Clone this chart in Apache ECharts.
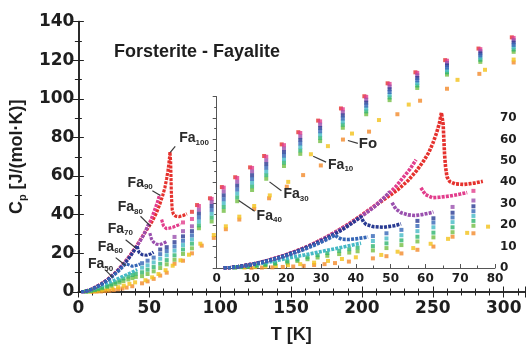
<!DOCTYPE html>
<html>
<head>
<meta charset="utf-8">
<script src="https://cdn.jsdelivr.net/npm/echarts@6.0.0/dist/echarts.min.js"></script>
<style>
  html, body { margin: 0; padding: 0; background: #fff; }
  #chart { width: 529px; height: 349px; }
</style>
</head>
<body>
<div id="chart"></div>
<script>
// ---- data: [T (K), Cp (J/(mol K))] ----
const fa100Curve = [[2,0.05],[4,0.2],[6,0.6],[8,1.1],[10,1.7],[13,2.8],[16,4.1],[19,5.6],[22,7.4],[25,9.3],[28,11.5],[31,14],[34,16.7],[37,19.6],[40,22.8],[43,26.2],[46,29.6],[49,33],[52,36.5],[55,40.8],[57.5,45.5],[59.5,50],[61,54],[62.2,58.5],[63.2,63],[64,67.5],[64.6,72.5],[65.1,67],[65.3,60],[65.5,53],[65.8,47],[66.2,42.5],[67,40.3],[68.5,39.3],[71,39],[74,39.6],[76.5,40.5]]
const fa100Dots = [[80.1,41.5],[83.7,45],[92.8,48.5],[101.2,54.3],[110.6,59.4],[121.1,64.5],[131,70.4],[143.4,76.4],[155.1,82.7],[169.1,88.7],[185.2,95],[201.7,101.3],[218.1,108],[237.7,113.7],[258.7,120],[282.2,126],[305.7,131.8]]

const fa90Rise = [[2,0.05],[4,0.2],[6,0.6],[8,1.1],[10,1.7],[13,2.8],[16,4.1],[19,5.6],[22,7.3],[25,9.2],[28,11.4],[31,13.8],[34,16.5],[37,19.4],[40,22.6],[43,26],[46,29.8],[49,34],[51.5,38],[53.5,42],[55.5,46],[57.3,50.5]]
const fa90After = [[58.7,37.5],[60,34.3],[62,32.8],[64,33],[67,33.6],[70,34.5],[72,35.2]]
const fa90Dots = [[73.8,36],[80.1,37.8],[85,44.5],[94,48.2],[102.5,54],[112,59],[122.5,64.2],[132.5,70],[145,76],[156.5,82.3],[170.5,88.3],[186.5,94.6],[203,101],[219.5,107.7],[239,113.4],[260,119.7],[283.5,125.7],[307,131.5]]

const fa80Rise = [[2,0.05],[4,0.2],[6,0.6],[8,1.1],[10,1.7],[13,2.8],[16,4.1],[19,5.6],[22,7.3],[25,9.2],[28,11.4],[31,13.8],[34,16.5],[37,19.3],[40,22.3],[43,25.7],[46,29.4],[48.5,33.4],[49.7,35.6]]
const fa80After = [[50.4,30.5],[51.5,27.5],[53,25.8],[55,24.8],[57,24.5],[59,24.9],[61,25.6],[62.3,26.2]]
const fa80Dots = [[67.8,28.5],[73.8,31.5],[80.1,34],[85,42.5],[94,46.5],[102.5,52],[112,57],[122.5,62.3],[132.5,68.1],[145,74.2],[156.5,80.5],[170.5,86.6],[186.5,93],[203,99.5],[219.5,106.3],[239,112.1],[260,118.5],[283.5,124.6],[307,130.3]]

const fa70Curve = [[2,0.05],[4,0.2],[6,0.6],[8,1.1],[10,1.7],[13,2.8],[16,4],[19,5.5],[22,7.2],[25,9],[28,11.1],[31,13.4],[34,15.9],[37,18.8],[40,22.2],[41.5,24],[42.2,21.5],[43,20.3],[45,19.3],[48,19],[51,19.7],[53,20.6]]
const fa70Dots = [[57.7,22],[62.3,23.2],[67.8,25.8],[73.8,28.8],[80.1,31.5],[85,40.5],[94,44.5],[102.5,50],[112,55],[122.5,60.4],[132.5,66.2],[145,72.4],[156.5,78.7],[170.5,84.9],[186.5,91.4],[203,98],[219.5,104.9],[239,110.8],[260,117.3],[283.5,123.5],[307,129.1]]

const fa60Curve = [[2,0.05],[4,0.2],[6,0.55],[8,1],[10,1.6],[13,2.6],[16,3.8],[19,5.2],[22,6.8],[25,8.6],[28,10.6],[31,12.8],[33,14.4],[34,15.4],[34.8,14.3],[36,13.4],[38,13.3],[40,13.6],[42,14.1],[43.5,14.5]]
const fa60Dots = [[44.9,14.9],[48.8,16.2],[53.1,17.8],[57.7,19.6],[62.3,21.2],[67.8,23.6],[73.8,26.5],[80.1,29.3],[85,38.5],[94,42.5],[102.5,48],[112,53],[122.5,58.5],[132.5,64.3],[145,70.6],[156.5,76.9],[170.5,83.2],[186.5,89.8],[203,96.5],[219.5,103.5],[239,109.5],[260,116.1],[283.5,122.4],[307,127.9]]

const fa50Curve = [[2,0.05],[4,0.2],[6,0.5],[8,0.9],[10,1.4],[13,2.2],[16,3.1],[19,4.1],[22,5.1],[25,6],[28,7],[31,8],[34,9],[37,10],[40,11.1],[41.5,11.6]]
const fa50Dots = [[44.9,12.6],[48.8,13.8],[53.1,15.3],[57.7,17.2],[62.3,19],[67.8,21.4],[73.8,24.3],[80.1,27.2],[85,36.5],[94,40.5],[102.5,46],[112,51],[122.5,56.6],[132.5,62.4],[145,68.8],[156.5,75.1],[170.5,81.5],[186.5,88.2],[203,95],[219.5,102.1],[239,108.2],[260,114.9],[283.5,121.3],[307,126.7]]

const fa40Dots = [[5.3,0.3],[7,0.5],[9,0.8],[11.5,1.2],[14,1.7],[16.8,2.3],[20.3,3.2],[23.2,4],[26.1,5],[29,6],[31.8,7],[35.2,8],[38.1,8.8],[40.5,9.5],[44.9,10.2],[48.8,11.5],[53.1,12.9],[57.7,14.6],[62.3,16.5],[67.8,19],[73.8,22],[80.1,25],[85,34.5],[94,38.5],[102.5,44],[112,49],[122.5,54.7],[132.5,60.5],[145,67],[156.5,73.3],[170.5,79.8],[186.5,86.6],[203,93.5],[219.5,100.7],[239,106.9],[260,113.7],[283.5,120.2],[307,125.5]]

const fa30Dots = [[5.3,0.2],[7,0.4],[9,0.6],[11.5,1],[14,1.4],[16.8,1.9],[20.3,2.6],[23.2,3.3],[26.1,4.1],[29,4.9],[31.8,5.7],[35.2,6.5],[38.1,7.2],[40.5,7.8],[44.9,8.2],[48.8,9.3],[53.1,10.7],[57.7,12.4],[62.3,14.3],[67.8,16.7],[73.8,19.7],[80.1,22.6],[85,33],[94,36.5],[102.5,42],[112,47],[122.5,52.8],[132.5,58.6],[145,65.2],[156.5,71.5],[170.5,78.1],[186.5,85],[203,92],[219.5,99.3],[239,105.6],[260,112.5],[283.5,119.1],[307,124.3]]

const fa10Dots = [[8,0.2],[11,0.4],[14,0.6],[17,0.9],[20.5,1.3],[24,1.8],[28,2.5],[32,3.3],[36,4.2],[40,5],[47.3,6.1],[52,7.6],[56.5,9.3],[61.5,11.3],[66.5,13.6],[72,16.4],[78,19.3],[86,25],[95.5,29.5],[104,34],[113.5,39],[124,44.5],[135,50],[148,57],[164,71.3],[176,75.5],[193,82],[212,89],[233,97],[267.4,109.8],[286.8,115],[307,120.3]]

const foDots = [[10,0.1],[13,0.2],[16,0.3],[19,0.5],[22,0.7],[25,1],[28,1.4],[31,1.8],[34,2.3],[38,3],[44.9,4.5],[48.8,5.5],[53.1,6.8],[57.7,8.5],[62.3,10],[67.8,14.6],[73.8,16.2],[80.1,20],[87,24],[95.5,28],[104,32.5],[113.5,37.5],[124,43],[134.5,48.5],[147,54.5],[158.5,60.5],[171,65.5],[186.6,78.9],[205,83],[225,92],[241,99],[260,105.2],[282.8,112.9],[307,118.8]]

// tick values
const mainXTicks = [0, 50, 100, 150, 200, 250, 300]
const insetYMax = 80

const colors = {
  fa100: '#e5312d', fa90: '#e23d8c', fa80: '#9a50ae', fa70: '#283a92', fa60: '#3566b6',
  fa50: '#45b9c6', fa40: '#2db46e', fa30: '#72be44', fa10: '#f2c21a', fo: '#f28a2a'
}

const chart = echarts.init(document.getElementById('chart'))

const ink = '#1e1e1e'
const numFont = 'DejaVu Sans'
const txtFont = 'Liberation Sans'

function dots(data, color, inset) {
  return {
    type: 'scatter', data, silent: true,
    xAxisIndex: inset ? 2 : 0, yAxisIndex: inset ? 2 : 0,
    symbol: 'rect', symbolSize: 4,
    itemStyle: { color }
  }
}
// densely measured stretches drawn as a beaded line
function curve(data, color, inset) {
  return {
    type: 'line', data, silent: true, showSymbol: false,
    xAxisIndex: inset ? 2 : 0, yAxisIndex: inset ? 2 : 0,
    lineStyle: { color, width: inset ? 3.6 : 3.2, type: [3, 1.2] }
  }
}

// drawing order: bottom to top
const layers = [
  [foDots, colors.fo, 'd'], [fa10Dots, colors.fa10, 'd'],
  [fa30Dots, colors.fa30, 'd'], [fa40Dots, colors.fa40, 'd'],
  [fa50Curve, colors.fa50, 'c'], [fa50Dots, colors.fa50, 'd'],
  [fa100Curve, colors.fa100, 'c'], [fa100Dots, colors.fa100, 'd'],
  [fa90Rise, colors.fa90, 'c'], [fa90After, colors.fa90, 'c'], [fa90Dots, colors.fa90, 'd'],
  [fa80Rise, colors.fa80, 'c'], [fa80After, colors.fa80, 'c'], [fa80Dots, colors.fa80, 'd'],
  [fa70Curve, colors.fa70, 'c'], [fa70Dots, colors.fa70, 'd'],
  [fa60Curve, colors.fa60, 'c'], [fa60Dots, colors.fa60, 'd']
]
const series = []
for (const inset of [false, true]) {
  for (const [data, color, kind] of layers) {
    series.push(kind === 'c' ? curve(data, color, inset) : dots(data, color, inset))
  }
}

const mainAxisLine = { show: true, lineStyle: { color: '#222', width: 1.6 } }
const insetAxisLine = { show: true, lineStyle: { color: '#555', width: 1 } }

chart.setOption({
  animation: false,
  backgroundColor: '#fff',
  title: {
    text: 'Forsterite - Fayalite', left: 109, top: 38,
    textStyle: { fontFamily: txtFont, fontSize: 18, fontWeight: 'bold', color: ink }
  },
  grid: [
    { left: 75.5, right: 4, top: 21.5, bottom: 54 },
    { left: 216.7, right: 34, top: 96.6, bottom: 81 }
  ],
  xAxis: [
    {
      gridIndex: 0, type: 'value', min: 0, max: 315, interval: 50,
      name: 'T [K]', nameLocation: 'middle', nameGap: 34,
      nameTextStyle: { fontFamily: txtFont, fontSize: 18, fontWeight: 'bold', color: ink, padding: [0, 21, 0, 0] },
      axisLine: mainAxisLine,
      axisTick: { inside: true, length: 5.5, lineStyle: { color: '#222', width: 1 } },
      minorTick: { show: true, splitNumber: 5, length: 3.5, lineStyle: { color: '#222', width: 1 } },
      axisLabel: {
        margin: 8, showMaxLabel: false, fontFamily: numFont, fontSize: 17, fontWeight: 'bold', color: ink,
        formatter: v => mainXTicks.includes(v) ? String(v) : ''
      },
      splitLine: { show: false }
    },
    {
      gridIndex: 0, type: 'value', position: 'top', min: 0, max: 315, interval: 50,
      axisLine: mainAxisLine,
      axisTick: { inside: true, length: 5.5, lineStyle: { color: '#222', width: 1 } },
      minorTick: { show: true, splitNumber: 5, length: 3.5, lineStyle: { color: '#222', width: 1 } },
      axisLabel: { show: false }, splitLine: { show: false }
    },
    {
      gridIndex: 1, type: 'value', min: 0, max: 80, interval: 10,
      axisLine: insetAxisLine,
      axisTick: { inside: true, length: 4, lineStyle: { color: '#555', width: 1 } },
      minorTick: { show: true, splitNumber: 2, length: 2.5, lineStyle: { color: '#555', width: 1 } },
      axisLabel: { margin: 5, fontFamily: numFont, fontSize: 12, fontWeight: 'bold', color: ink },
      splitLine: { show: false }
    }
  ],
  yAxis: [
    {
      gridIndex: 0, type: 'value', min: 0, max: 140, interval: 20,
      name: '{c|C}{p|p}{c| [J/(mol·K)]}', nameLocation: 'middle', nameGap: 39, nameRotate: 90,
      nameTextStyle: {
        rich: {
          c: { fontFamily: txtFont, fontSize: 18, fontWeight: 'bold', color: ink, lineHeight: 22 },
          p: { fontFamily: txtFont, fontSize: 11, fontWeight: 'bold', color: ink, verticalAlign: 'bottom', lineHeight: 14 }
        }
      },
      axisLine: mainAxisLine,
      axisTick: { inside: true, length: 5.5, lineStyle: { color: '#222', width: 1 } },
      minorTick: { show: true, splitNumber: 2, length: 3.5, lineStyle: { color: '#222', width: 1 } },
      axisLabel: { margin: 4, fontFamily: numFont, fontSize: 17, fontWeight: 'bold', color: ink },
      splitLine: { show: false }
    },
    {
      gridIndex: 0, type: 'value', position: 'right', min: 0, max: 140, interval: 20,
      axisLine: mainAxisLine,
      axisTick: { inside: true, length: 5.5, lineStyle: { color: '#222', width: 1 } },
      minorTick: { show: true, splitNumber: 2, length: 3.5, lineStyle: { color: '#222', width: 1 } },
      axisLabel: { show: false }, splitLine: { show: false }
    },
    {
      gridIndex: 1, type: 'value', position: 'right', min: 0, max: insetYMax, interval: 10,
      axisLine: insetAxisLine,
      axisTick: { inside: true, length: 4, lineStyle: { color: '#555', width: 1 } },
      minorTick: { show: true, splitNumber: 2, length: 2.5, lineStyle: { color: '#555', width: 1 } },
      axisLabel: { margin: 5, showMaxLabel: false, fontFamily: numFont, fontSize: 12, fontWeight: 'bold', color: ink },
      splitLine: { show: false }
    }
  ],
  series
})

// composition labels with leader lines, anchored in data units of the main plot
const labels = [
  { sub: '100', at: [71.1, 79.4], line: [[68.3, 75.4], [64.8, 72.3]] },
  { sub: '90', at: [34.7, 56.5], line: [[52.2, 52.4], [57.8, 49.9]] },
  { sub: '80', at: [27.7, 43.8], line: [[43.8, 39.2], [50.8, 34.1]] },
  { sub: '70', at: [20.7, 32.6], line: [[33.3, 27], [40.3, 22.9]] },
  { sub: '60', at: [13.7, 23.4], line: [[26.3, 17.8], [33.3, 13.7]] },
  { sub: '50', at: [6.7, 14.3], line: [[19.3, 11.2], [24.2, 7.6]] },
  { sub: '40', at: [125.7, 39.2], line: [[113.1, 47.4], [124.3, 41.8]] },
  { sub: '30', at: [144.6, 50.4], line: [[134.8, 57], [143.2, 52.4]] },
  { sub: '10', at: [176.1, 65.7], line: [[165.6, 70.3], [174.7, 67.2]] },
  { sub: null, at: [197.8, 76.9], line: [[190.1, 78.4], [197.1, 76.9]] }
]
const px = p => chart.convertToPixel({ xAxisIndex: 0, yAxisIndex: 0 }, p)
const graphic = []
for (const lb of labels) {
  const a = px(lb.line[0]), b = px(lb.line[1]), t = px(lb.at)
  graphic.push({
    type: 'line', silent: true, z: 50,
    shape: { x1: a[0], y1: a[1], x2: b[0], y2: b[1] },
    style: { stroke: '#3a3a3a', lineWidth: 1.2 }
  })
  graphic.push({
    type: 'text', silent: true, z: 50, x: t[0], y: t[1],
    style: {
      text: lb.sub ? '{a|Fa}{b|' + lb.sub + '}' : '{a|Fo}',
      verticalAlign: 'middle',
      rich: {
        a: { fontFamily: txtFont, fontSize: lb.sub ? 14 : 15, fontWeight: 'bold', fill: '#2a2a2a', lineHeight: 16 },
        b: { fontFamily: txtFont, fontSize: 8, fontWeight: 'bold', fill: '#2a2a2a', verticalAlign: 'bottom', lineHeight: 10 }
      }
    }
  })
}
chart.setOption({ graphic })
</script>
</body>
</html>
